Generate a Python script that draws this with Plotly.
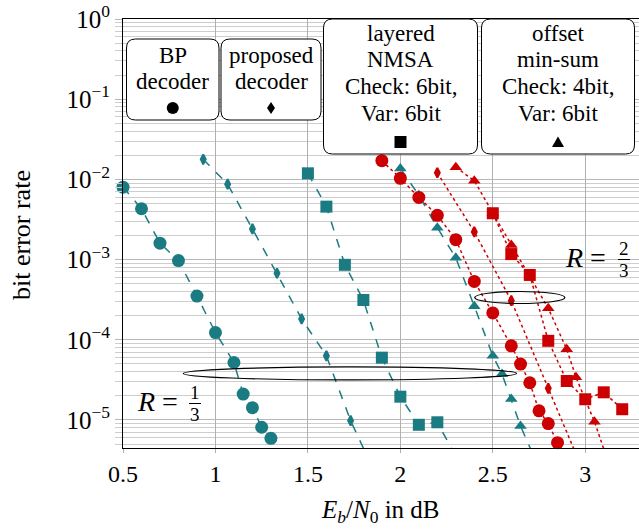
import plotly.graph_objects as go

# ---------------- data ----------------
# R = 1/3 (teal, dashed)
bp13_x = [0.5, 0.6, 0.7, 0.8, 0.9, 1.0, 1.1, 1.15, 1.2, 1.25, 1.3, 1.35]
bp13_y = [8.0e-3, 4.3e-3, 1.6e-3, 9.7e-4, 3.5e-4, 1.23e-4, 5.2e-5, 2.1e-5, 1.42e-5, 8.1e-6, 5.9e-6, 3.2e-6]
prop13_x = [0.934, 1.066, 1.2, 1.333, 1.466, 1.6, 1.731, 1.87]
prop13_y = [1.78e-2, 8.7e-3, 2.41e-3, 6.75e-4, 1.82e-4, 6.3e-5, 9.8e-6, 2.0e-6]
nmsa13_x = [1.5, 1.6, 1.7, 1.8, 1.9, 2.0, 2.1, 2.2, 2.3]
nmsa13_y = [1.19e-2, 4.57e-3, 8.6e-4, 3.13e-4, 5.98e-5, 1.95e-5, 8.7e-6, 9.35e-6, 3.5e-6]
oms13_x = [2.0, 2.1, 2.2, 2.3, 2.4, 2.5, 2.55, 2.6, 2.65, 2.75]
oms13_y = [1.37e-2, 6.35e-3, 2.5e-3, 1.05e-3, 2.62e-4, 6.3e-5, 3.73e-5, 1.82e-5, 8.4e-6, 2.5e-6]

# R = 2/3 (red, dotted)
bp23_x = [1.9, 2.0, 2.1, 2.2, 2.3, 2.4, 2.5, 2.6, 2.65, 2.7, 2.75, 2.8, 2.85]
bp23_y = [1.71e-2, 1.03e-2, 5.95e-3, 3.56e-3, 1.77e-3, 5.33e-4, 2.16e-4, 8.4e-5, 4.98e-5, 2.91e-5, 1.3e-5, 9.0e-6, 5.2e-6]
prop23_x = [2.2, 2.4, 2.6, 2.8, 3.0]
prop23_y = [1.21e-2, 2.21e-3, 3.07e-4, 2.48e-5, 2.0e-6]
nmsa23_x = [2.5, 2.6, 2.7, 2.8, 2.9, 3.0, 3.1, 3.2]
nmsa23_y = [3.78e-3, 1.17e-3, 6.43e-4, 9.7e-5, 3.06e-5, 1.81e-5, 2.21e-5, 1.36e-5]
oms23_x = [2.3, 2.4, 2.5, 2.6, 2.8, 2.9, 2.95, 3.05, 3.15]
oms23_y = [1.42e-2, 9.6e-3, 3.81e-3, 1.52e-3, 2.47e-4, 7.6e-5, 3.4e-5, 9.5e-6, 2.0e-6]

x_tickvals = [0.5, 1, 1.5, 2, 2.5, 3]
x_ticktext = ["0.5", "1", "1.5", "2", "2.5", "3"]
y_tickvals = [1, 1e-1, 1e-2, 1e-3, 1e-4, 1e-5]
y_ticktext = ["10<sup>0</sup>", "10<sup>\u22121</sup>", "10<sup>\u22122</sup>",
              "10<sup>\u22123</sup>", "10<sup>\u22124</sup>", "10<sup>\u22125</sup>"]

legend_boxes = [
    (["BP", "decoder"], "circle"),
    (["proposed", "decoder"], "diamond"),
    (["layered", "NMSA", "Check: 6bit,", "Var: 6bit"], "square"),
    (["offset", "min-sum", "Check: 4bit,", "Var: 6bit"], "triangle"),
]

# ---------------- style / layout ----------------
W, H = 639, 529
L, T = 123, 19
PW, PH = 516, 429
XMIN, XMAX = 0.5, 0.5 + PW / 184.9
YLOGMIN, YLOGMAX = -5.35, 0.0
YMIN = 10 ** YLOGMIN

TEAL = "#1b7b83"
RED = "#cc0000"
FONT = "Liberation Serif"


def px(x):
    return (x - L) / PW


def py(y):
    return (T + PH - y) / PH


fig = go.Figure()


def add_series(xs, ys, color, dash, symbol, size, lw=0):
    sizes = [size if v >= YMIN else 0 for v in ys]
    fig.add_trace(go.Scatter(
        x=xs, y=ys, mode="lines+markers",
        line=dict(color=color, width=1.5, dash=dash),
        marker=dict(symbol=symbol, size=sizes, color=color, opacity=1,
                    line=dict(width=lw, color=color)),
        cliponaxis=False, showlegend=False, hoverinfo="skip"))


add_series(bp13_x, bp13_y, TEAL, "dash", "circle", 13)
add_series(prop13_x, prop13_y, TEAL, "dash", "diamond-tall", 7, 2)
add_series(nmsa13_x, nmsa13_y, TEAL, "dash", "square", 12)
add_series(oms13_x, oms13_y, TEAL, "dash", "triangle-up", 11)
add_series(bp23_x, bp23_y, RED, "dot", "circle", 13)
add_series(prop23_x, prop23_y, RED, "dot", "diamond-tall", 7, 2)
add_series(nmsa23_x, nmsa23_y, RED, "dot", "square", 12)
add_series(oms23_x, oms23_y, RED, "dot", "triangle-up", 11)

minor_vals = [k * 10 ** e for e in range(-6, 0) for k in range(2, 10)]

fig.update_layout(
    width=W, height=H,
    margin=dict(l=L, r=W - L - PW, t=T, b=H - T - PH, pad=0),
    paper_bgcolor="white", plot_bgcolor="white",
    font=dict(family=FONT, size=23, color="black"),
    xaxis=dict(range=[XMIN, XMAX], tickvals=x_tickvals, ticktext=x_ticktext,
               showgrid=True, gridcolor="#b0b0b0", gridwidth=1,
               showline=True, linecolor="black", linewidth=1, mirror=True,
               ticks="outside", ticklen=4, tickcolor="#b0b0b0",
               zeroline=False, tickfont=dict(size=24)),
    yaxis=dict(type="log", range=[YLOGMIN, YLOGMAX], tickvals=y_tickvals, ticktext=y_ticktext,
               showgrid=True, gridcolor="#b8b8b8", gridwidth=1,
               showline=True, linecolor="black", linewidth=1, mirror=False,
               ticks="outside", ticklen=7, tickcolor="#b8b8b8",
               zeroline=False, tickfont=dict(size=25),
               minor=dict(tickmode="array", tickvals=minor_vals, showgrid=True,
                          gridcolor="#cdcdcd", gridwidth=1, ticks="outside",
                          ticklen=7, tickcolor="#cdcdcd")),
)

shapes = []
annotations = []

# axis titles
annotations.append(dict(xref="paper", yref="paper", x=px(380), y=py(511), text="<i>E</i><sub><i>b</i></sub>/<i>N</i><sub>0</sub> in dB",
                        showarrow=False, font=dict(size=25), xanchor="center", yanchor="middle"))
annotations.append(dict(xref="paper", yref="paper", x=px(21), y=py(235), text="bit error rate", textangle=-90,
                        showarrow=False, font=dict(size=26), xanchor="center", yanchor="middle"))

# ellipses marking the code rates
for (xa, xb, c, h) in [(0.826, 2.628, -4.42, 0.081), (2.402, 2.89, -3.473, 0.075)]:
    shapes.append(dict(type="circle", xref="x", yref="y", x0=xa, x1=xb,
                       y0=10 ** (c - h), y1=10 ** (c + h),
                       line=dict(color="black", width=1.2), fillcolor="rgba(0,0,0,0)", layer="above"))

# rate labels
for (cx, cy, num, fx) in [(157, 401, "1", 195), (585, 257, "2", 624)]:
    annotations.append(dict(xref="paper", yref="paper", x=px(cx), y=py(cy), text="<i>R</i> =",
                            showarrow=False, font=dict(size=28), xanchor="center", yanchor="middle"))
    annotations.append(dict(xref="paper", yref="paper", x=px(fx), y=py(cy - 9), text=num,
                            showarrow=False, font=dict(size=19), xanchor="center", yanchor="middle"))
    annotations.append(dict(xref="paper", yref="paper", x=px(fx), y=py(cy + 13), text="3",
                            showarrow=False, font=dict(size=19), xanchor="center", yanchor="middle"))
    shapes.append(dict(type="line", xref="paper", yref="paper", x0=px(fx - 6), x1=px(fx + 6),
                       y0=py(cy + 2.5), y1=py(cy + 2.5), line=dict(color="black", width=1), layer="above"))

# legend boxes
box_geom = [(126.5, 219.0, 39, 120, 55, 26, 108),
            (221.0, 321.0, 39, 120, 55, 26, 108),
            (323.5, 477.5, 19, 154, 33.5, 26.5, 142),
            (481.5, 634.5, 19, 154, 33.5, 26.5, 142)]
R_ = 9
for (lines, sym), (x0p, x1p, y0p, y1p, ty0, tdy, my) in zip(legend_boxes, box_geom):
    x0, x1 = px(x0p), px(x1p)
    yb, yt = py(y1p), py(y0p)
    rx, ry = R_ / PW, R_ / PH
    path = (f"M {x0+rx},{yb} L {x1-rx},{yb} Q {x1},{yb} {x1},{yb+ry} L {x1},{yt-ry} "
            f"Q {x1},{yt} {x1-rx},{yt} L {x0+rx},{yt} Q {x0},{yt} {x0},{yt-ry} "
            f"L {x0},{yb+ry} Q {x0},{yb} {x0+rx},{yb} Z")
    shapes.append(dict(type="path", xref="paper", yref="paper", path=path,
                       line=dict(color="black", width=1), fillcolor="white", layer="above"))
    cxp = (x0p + x1p) / 2
    for i, t in enumerate(lines):
        annotations.append(dict(xref="paper", yref="paper", x=px(cxp), y=py(ty0 + i * tdy), text=t,
                                showarrow=False, font=dict(size=23), xanchor="center", yanchor="middle"))
    if sym == "circle":
        r = 6
        shapes.append(dict(type="circle", xref="paper", yref="paper", x0=px(cxp - r), x1=px(cxp + r),
                           y0=py(my + r), y1=py(my - r), fillcolor="black", line=dict(width=0), layer="above"))
    elif sym == "diamond":
        p = (f"M {px(cxp)},{py(my-6)} L {px(cxp+4)},{py(my)} L {px(cxp)},{py(my+6)} "
             f"L {px(cxp-4)},{py(my)} Z")
        shapes.append(dict(type="path", xref="paper", yref="paper", path=p, fillcolor="black",
                           line=dict(width=0), layer="above"))
    elif sym == "square":
        s = 6
        shapes.append(dict(type="rect", xref="paper", yref="paper", x0=px(cxp - s), x1=px(cxp + s),
                           y0=py(my + s), y1=py(my - s), fillcolor="black", line=dict(width=0), layer="above"))
    else:
        p = (f"M {px(cxp-6)},{py(my+5)} L {px(cxp+6)},{py(my+5)} L {px(cxp)},{py(my-5.5)} Z")
        shapes.append(dict(type="path", xref="paper", yref="paper", path=p, fillcolor="black",
                           line=dict(width=0), layer="above"))

fig.update_layout(shapes=shapes, annotations=annotations)

fig.write_html("out.html", config={"displayModeBar": False},
               post_script="document.body.style.margin='0';document.body.style.overflow='hidden';")
